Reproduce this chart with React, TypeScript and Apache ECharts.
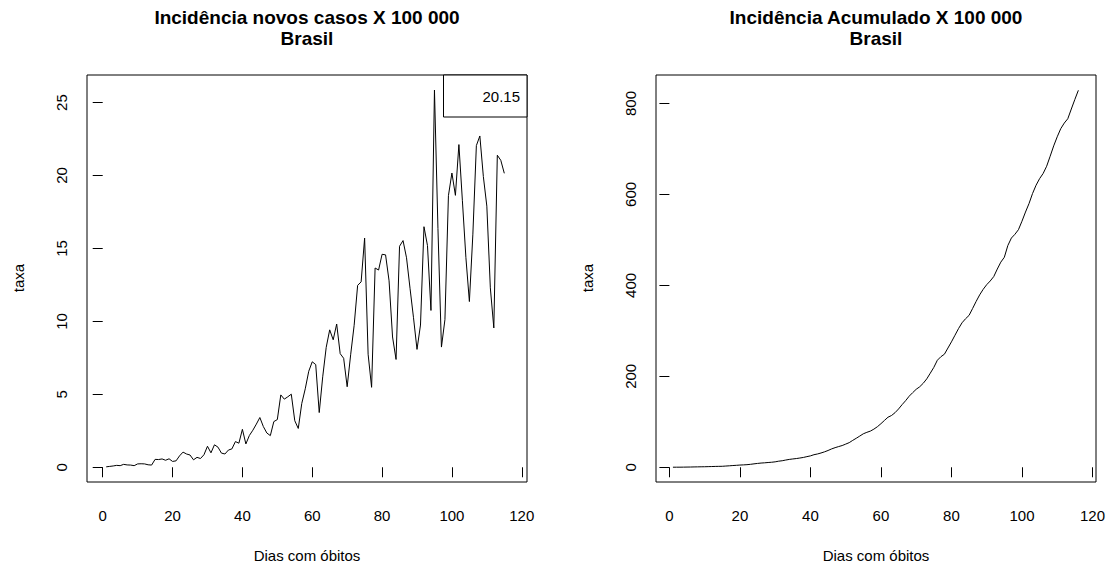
import React, { useEffect, useRef } from "react";
import * as echarts from "echarts";

// New cases per 100 000 (days 1..115)
const novosCasos: number[] = [
  0.03, 0.06, 0.09, 0.13, 0.11, 0.2, 0.16, 0.15, 0.11, 0.23,
  0.24, 0.23, 0.17, 0.15, 0.54, 0.53, 0.57, 0.48, 0.58, 0.4,
  0.44, 0.78, 1.04, 0.91, 0.84, 0.51, 0.68, 0.6, 0.86, 1.44,
  0.99, 1.54, 1.38, 0.97, 0.91, 1.18, 1.26, 1.76, 1.65, 2.6,
  1.6, 2.18, 2.54, 2.96, 3.41, 2.79, 2.35, 2.17, 3.13, 3.27,
  4.96, 4.67, 4.83, 5.01, 3.19, 2.66, 4.37, 5.38, 6.58, 7.23,
  7.04, 3.75, 6.2, 8.22, 9.42, 8.74, 9.82, 7.79, 7.47, 5.52,
  7.71, 9.73, 12.47, 12.71, 15.71, 7.75, 5.48, 13.66, 13.52, 14.6,
  14.56, 12.78, 8.93, 7.39, 15.15, 15.54, 14.36, 12.27, 10.25, 8.08,
  9.75, 16.49, 15.2, 10.75, 25.86, 16.37, 8.24, 10.12, 18.62, 20.17,
  18.64, 22.12, 18.27, 14.39, 11.36, 15.98, 22.05, 22.71, 19.93, 17.9,
  12.3, 9.55, 21.39, 21.04, 20.15,
];

// Cumulative per 100 000 (days 1..116)
const acumulado: number[] = [
  0.11, 0.14, 0.2, 0.29, 0.43, 0.53, 0.73, 0.89, 1.04, 1.15,
  1.38, 1.61, 1.84, 2.01, 2.16, 2.7, 3.23, 3.8, 4.28, 4.85,
  5.25, 5.69, 6.48, 7.52, 8.43, 9.27, 9.79, 10.47, 11.06, 11.93,
  13.37, 14.36, 15.9, 17.28, 18.25, 19.16, 20.34, 21.6, 23.37, 25.02,
  27.62, 29.22, 31.4, 33.94, 36.9, 40.31, 43.11, 45.51, 47.76, 50.89,
  54.16, 59.12, 63.79, 68.62, 73.63, 76.82, 79.48, 83.85, 89.22, 95.81,
  103.03, 110.08, 113.83, 120.03, 128.25, 137.67, 146.41, 156.23, 164.02, 171.49,
  177.01, 184.71, 194.44, 206.91, 219.63, 235.34, 243.08, 248.56, 262.22, 275.74,
  290.34, 304.9, 317.68, 326.61, 334.0, 349.15, 364.69, 379.05, 391.32, 401.56,
  409.64, 419.39, 435.88, 451.07, 461.82, 487.68, 504.05, 512.29, 522.42, 541.03,
  561.2, 579.85, 601.97, 620.24, 634.63, 645.99, 661.96, 684.02, 706.74, 726.67,
  744.57, 756.88, 766.42, 787.81, 808.85, 828.98,
];

const xTicks = [0, 20, 40, 60, 80, 100, 120];
const yTicksLeft = [0, 5, 10, 15, 20, 25];
const yTicksRight = [0, 200, 400, 600, 800];
const legendText = "20.15";
const titleLeft = "Incidência novos casos X 100 000";
const titleRight = "Incidência Acumulado X 100 000";
const subtitle = "Brasil";
const xName = "Dias com óbitos";
const yName = "taxa";

const FONT = "Liberation Sans, Arial, Helvetica, sans-serif";

export default function App() {
  const ref = useRef<HTMLDivElement>(null);
  useEffect(() => {
    if (!ref.current) return;
    const chart = echarts.init(ref.current, null, { renderer: "svg" });

    const G1 = { left: 87, top: 75, width: 440, height: 407 };
    const G2 = { left: 656, top: 75, width: 440, height: 407 };
    const c1 = G1.left + G1.width / 2;
    const c2 = G2.left + G2.width / 2;

    const xAxisBase = (gridIndex: number, min: number, max: number) => ({
      type: "value" as const,
      gridIndex,
      min,
      max,
      splitLine: { show: false },
      axisLine: { show: false },
      axisTick: {
        show: true,
        inside: false,
        length: 10,
        customValues: xTicks,
        lineStyle: { color: "#000", width: 1 },
      },
      axisLabel: {
        show: true,
        customValues: xTicks,
        margin: 26,
        color: "#000",
        fontSize: 15,
        fontFamily: FONT,
      },
    });

    const yAxisBase = (gridIndex: number, min: number, max: number, ticks: number[]) => ({
      type: "value" as const,
      gridIndex,
      min,
      max,
      splitLine: { show: false },
      axisLine: { show: false },
      axisTick: {
        show: true,
        inside: false,
        length: 10,
        customValues: ticks,
        lineStyle: { color: "#000", width: 1 },
      },
      axisLabel: {
        show: true,
        customValues: ticks,
        rotate: 90,
        margin: 18,
        color: "#000",
        fontSize: 15,
        fontFamily: FONT,
      },
    });

    const textEl = (x: number, y: number, text: string, size: number, bold: boolean, rotation = 0) => ({
      type: "text" as const,
      x,
      y,
      rotation,
      style: {
        text,
        align: "center",
        verticalAlign: "middle",
        fontSize: size,
        fontWeight: bold ? "bold" : "normal",
        fontFamily: FONT,
        fill: "#000",
      },
    });

    chart.setOption({
      animation: false,
      backgroundColor: "#fff",
      grid: [
        { ...G1, show: true, borderColor: "#000", borderWidth: 1, backgroundColor: "transparent", containLabel: false },
        { ...G2, show: true, borderColor: "#000", borderWidth: 1, backgroundColor: "transparent", containLabel: false },
      ],
      xAxis: [xAxisBase(0, -4.5, 121.5), xAxisBase(1, -3.8, 121.0)],
      yAxis: [yAxisBase(0, -1.01, 26.89, yTicksLeft), yAxisBase(1, -32.4, 862.6, yTicksRight)],
      series: [
        {
          type: "line",
          xAxisIndex: 0,
          yAxisIndex: 0,
          showSymbol: false,
          symbol: "none",
          data: novosCasos.map((v, i) => [i + 1, v]),
          lineStyle: { color: "#000", width: 1 },
        },
        {
          type: "line",
          xAxisIndex: 1,
          yAxisIndex: 1,
          showSymbol: false,
          symbol: "none",
          data: acumulado.map((v, i) => [i + 1, v]),
          lineStyle: { color: "#000", width: 1 },
        },
      ],
      graphic: [
        textEl(c1, 17, titleLeft, 19, true),
        textEl(c1, 38, subtitle, 19, true),
        textEl(c2, 17, titleRight, 19, true),
        textEl(c2, 38, subtitle, 19, true),
        textEl(c1, 555, xName, 15, false),
        textEl(c2, 555, xName, 15, false),
        textEl(18, 278, yName, 15, false, Math.PI / 2),
        textEl(587, 278, yName, 15, false, Math.PI / 2),
        {
          type: "rect",
          shape: { x: 443.5, y: 75, width: 83.5, height: 42 },
          style: { fill: "#fff", stroke: "#000", lineWidth: 1 },
          z: 10,
        },
        {
          type: "text",
          x: 520,
          y: 96,
          z: 11,
          style: {
            text: legendText,
            align: "right",
            verticalAlign: "middle",
            fontSize: 15,
            fontFamily: FONT,
            fill: "#000",
          },
        },
      ],
    });

    return () => chart.dispose();
  }, []);

  return (
    <div
      ref={ref}
      style={{ position: "absolute", left: 0, top: 0, width: 1109, height: 567 }}
    />
  );
}
